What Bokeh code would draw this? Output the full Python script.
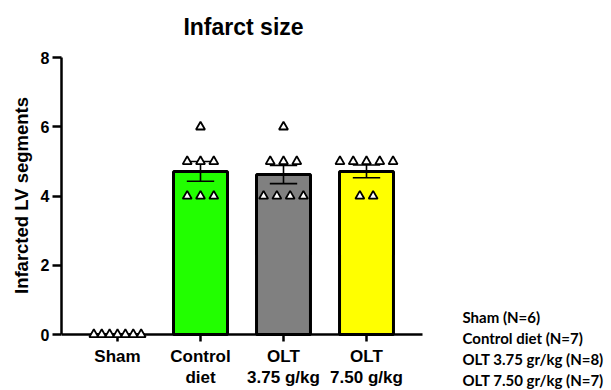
import numpy as np
from bokeh.plotting import figure
from bokeh.models import Range1d, LinearAxis, FixedTicker, ColumnDataSource
from bokeh.core.properties import value
from bokeh.embed import file_html
from bokeh.resources import INLINE

# ---- data ----
groups = ["Sham", "Control diet", "OLT 3.75 g/kg", "OLT 7.50 g/kg"]
tick_labels = ["Sham", "Control\ndiet", "OLT\n3.75 g/kg", "OLT\n7.50 g/kg"]
bar_colors = ["#FFFFFF", "#22FF00", "#808080", "#FFFF00"]
sham = [0, 0, 0, 0, 0, 0, 0]
control_diet = [6, 5, 5, 5, 4, 4, 4]
olt_375 = [6, 5, 5, 5, 4, 4, 4, 4]
olt_750 = [5, 5, 5, 5, 5, 4, 4]
legend_lines = ["Sham (N=6)", "Control diet (N=7)", "OLT 3.75 gr/kg (N=8)", "OLT 7.50 gr/kg (N=7)"]
title_text = "Infarct size"
y_label = "Infarcted LV segments"
y_ticks = [0, 2, 4, 6, 8]

series = [sham, control_diet, olt_375, olt_750]
xs = list(range(len(groups)))
means = [float(np.mean(v)) for v in series]
sems = [float(np.std(v, ddof=1) / np.sqrt(len(v))) for v in series]

FONT = "Liberation Sans"

# layout geometry (pixels): frame spans x 61..611, y 0..390
W, H = 611, 390
LEFT = 61
X0_PX, X_UNIT = 117, 83.0      # pixel of group 0 and pixels per group
Y0_PX, Y_UNIT = 334, 34.6      # pixel of y=0 and pixels per unit
xr = Range1d(-(X0_PX - LEFT) / X_UNIT, (W - X0_PX) / X_UNIT)
yr = Range1d(-(H - Y0_PX) / Y_UNIT, Y0_PX / Y_UNIT)
px2x = lambda px: (px - X0_PX) / X_UNIT
py2y = lambda py: (Y0_PX - py) / Y_UNIT
axis_right = 3 + (422 - 366) / X_UNIT

p = figure(width=W, height=H, x_range=xr, y_range=yr,
           output_backend="svg", toolbar_location=None,
           x_axis_type=None, y_axis_type=None,
           min_border_left=LEFT, min_border_right=0,
           min_border_top=0, min_border_bottom=0)
p.outline_line_color = None
p.background_fill_color = "white"

# y axis
yax = LinearAxis(ticker=FixedTicker(ticks=y_ticks), bounds=(0, 8))
yax.axis_line_width = 2.5
yax.axis_line_color = "black"
yax.major_tick_line_width = 2.5
yax.major_tick_out = 9
yax.major_tick_in = 0
yax.minor_tick_line_color = None
yax.major_label_text_font = FONT
yax.major_label_text_font_style = "bold"
yax.major_label_text_font_size = "16px"
yax.major_label_text_color = "black"
yax.major_label_standoff = 3
yax.axis_label = y_label
yax.axis_label_text_font = FONT
yax.axis_label_text_font_style = "bold"
yax.axis_label_text_font_size = "18.5px"
yax.axis_label_text_color = "black"
yax.axis_label_standoff = 6
p.add_layout(yax, "left")

# x axis line, ticks and labels at y = 0
p.segment(x0=[xr.start], y0=[0], x1=[axis_right], y1=[0], line_color="black", line_width=2.5)
p.segment(x0=xs, y0=[0] * len(xs), x1=xs, y1=[py2y(Y0_PX + 7)] * len(xs),
          line_color="black", line_width=2.5)
p.text(x=xs, y=[py2y(346)] * len(xs), text=tick_labels, text_align="center",
       text_baseline="top", text_font=value(FONT), text_font_style="bold",
       text_font_size="17px", text_color="black", text_line_height=1.15)

# bars
src = ColumnDataSource(dict(x=xs, top=means, color=bar_colors))
p.vbar(x="x", top="top", bottom=0, width=0.65, source=src,
       fill_color="color", line_color="black", line_width=3)

# error bars
cap = 0.165
lo = [m - s for m, s in zip(means, sems)]
hi = [m + s for m, s in zip(means, sems)]
p.segment(x0=xs, y0=lo, x1=xs, y1=hi, line_color="black", line_width=1.6)
p.segment(x0=[x - cap for x in xs], y0=lo, x1=[x + cap for x in xs], y1=lo,
          line_color="black", line_width=1.6)
p.segment(x0=[x - cap for x in xs], y0=hi, x1=[x + cap for x in xs], y1=hi,
          line_color="black", line_width=1.6)

# individual points, spread horizontally per value level
ptx, pty = [], []
for i, vals in enumerate(series):
    step = 0.095 if i == 0 else 0.16
    for v in sorted(set(vals), reverse=True):
        k = vals.count(v)
        for j in range(k):
            ptx.append(xs[i] + (j - (k - 1) / 2) * step)
            pty.append(v)
p.scatter(ptx, pty, marker="triangle", size=9, fill_color="white",
          line_color="black", line_width=1.8)

# title
p.text(x=[px2x(243)], y=[py2y(26)], text=[title_text], text_align="center",
       text_baseline="middle", text_font=value(FONT), text_font_style="bold",
       text_font_size="23px", text_color="black")

# N legend text
leg_py = [316, 337, 358, 379]
p.text(x=[px2x(462)] * len(legend_lines), y=[py2y(v) for v in leg_py],
       text=legend_lines, text_align="left", text_baseline="middle",
       text_font=value("Lato"), text_font_style="bold", text_font_size="15px",
       text_color="black")

open("out.html", "w").write(file_html(p, INLINE))
